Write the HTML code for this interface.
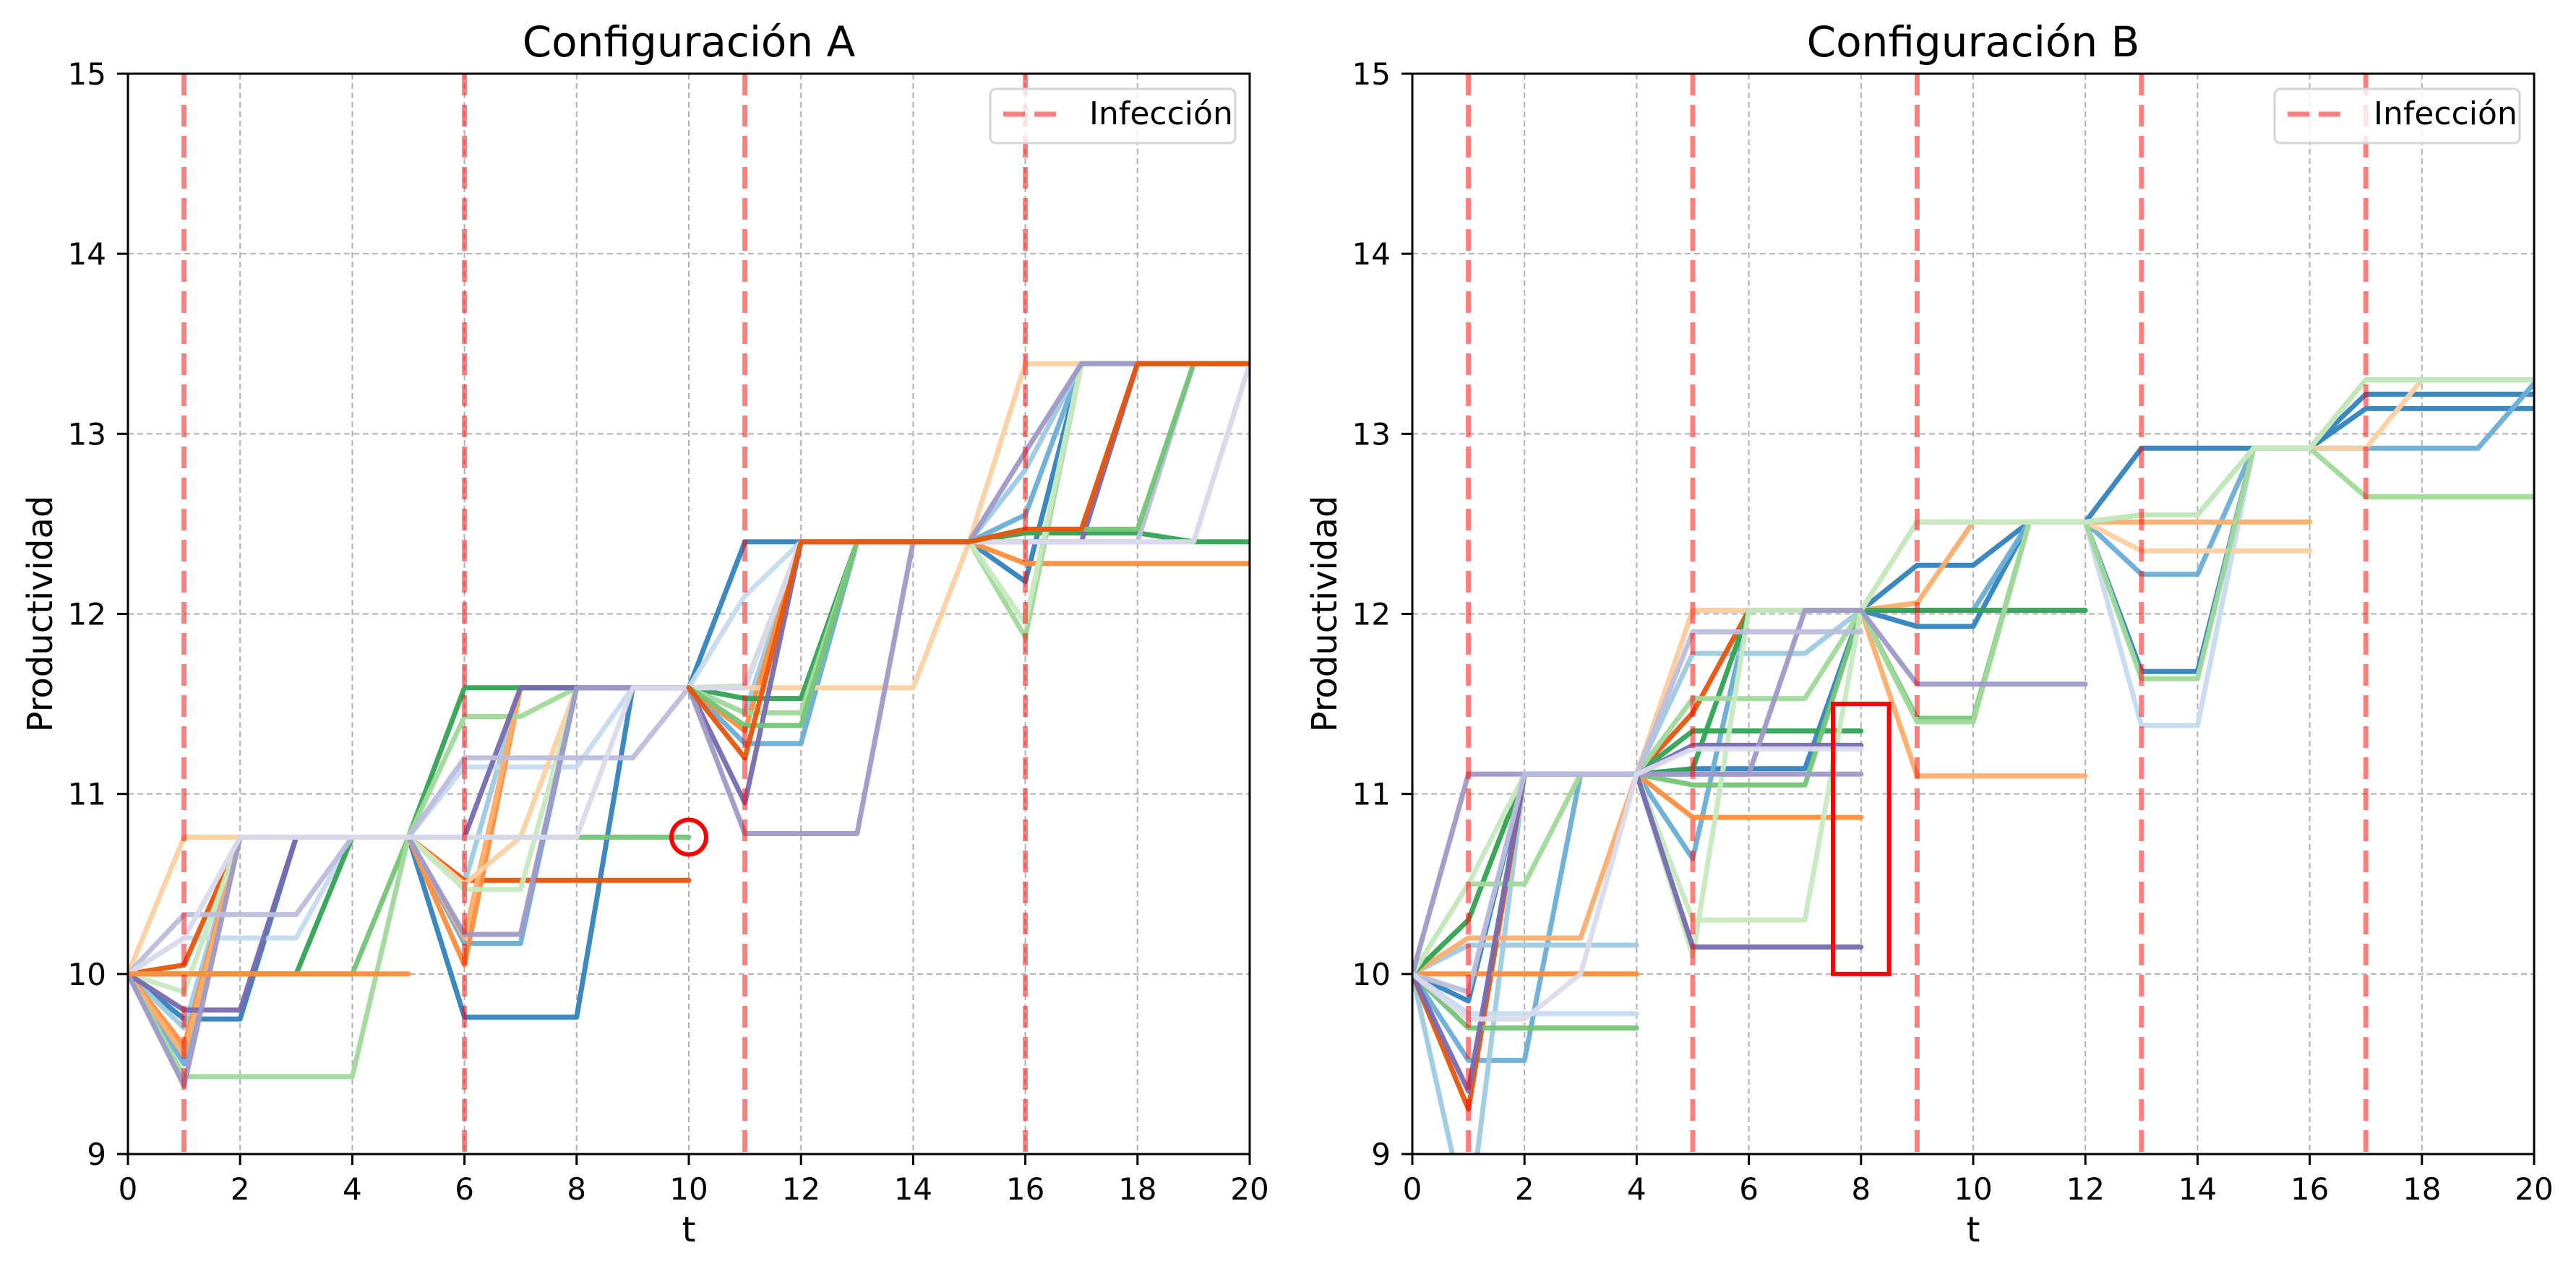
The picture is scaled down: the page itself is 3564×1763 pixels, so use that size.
<!DOCTYPE html>
<html><head><meta charset="utf-8">
<style>
html,body{margin:0;padding:0;background:#fff;}
svg{display:block;font-family:"DejaVu Sans","Liberation Sans",sans-serif;}
</style></head>
<body>
<svg id="fig" width="3564" height="1763" viewBox="0 0 3564 1763" xmlns="http://www.w3.org/2000/svg">
<rect width="3564" height="1763" fill="#fff"/>
</svg>
<script>
const palette=["#3182bd","#6baed6","#9ecae1","#c6dbef","#e6550d","#fd8d3c","#fdae6b","#fdd0a2","#31a354","#74c476","#a1d99b","#c7e9c0","#756bb1","#9e9ac8","#bcbddc","#dadaeb"];
const xTicks=[0,2,4,6,8,10,12,14,16,18,20];
const yTicks=[9,10,11,12,13,14,15];
const infectionA=[1,6,11,16];
const infectionB=[1,5,9,13,17];
const n=null;
// Configuración A series: [colorIndex, values at t=0..20]
const colorsA=[0,1,2,3,4,5,6,7,8,9,10,11,12,13,14,15,5,9,4];
const seriesA=[
[10,9.75,9.75,10.76,10.76,10.76,9.76,9.76,9.76,11.59,11.59,12.4,12.4,12.4,12.4,12.4,12.18,13.39,13.39,13.39,13.39],
[10,9.5,10.76,10.76,10.76,10.76,10.17,10.17,11.59,11.59,11.59,11.28,11.28,12.4,12.4,12.4,12.55,13.39,13.39,13.39,13.39],
[10,9.7,10.76,10.76,10.76,10.76,10.5,11.59,11.59,11.59,11.59,11.45,12.4,12.4,12.4,12.4,12.8,13.39,13.39,13.39,13.39],
[10,10.2,10.2,10.2,10.76,10.76,11.15,11.15,11.15,11.59,11.59,12.1,12.4,12.4,12.4,12.4,12.4,12.4,12.4,12.4,13.39],
[10,10.05,10.76,10.76,10.76,10.76,10.52,10.52,10.52,10.52,10.52,n,n,n,n,n,n,n,n,n,n],
[10,9.6,10.76,10.76,10.76,10.76,10.05,11.59,11.59,11.59,11.59,11.35,12.4,12.4,12.4,12.4,12.28,12.28,12.28,12.28,12.28],
[10,9.55,10.76,10.76,10.76,10.76,10.2,11.59,11.59,11.59,11.59,11.6,12.4,12.4,12.4,12.4,12.45,12.45,13.39,13.39,13.39],
[10,10.76,10.76,10.76,10.76,10.76,10.5,10.76,11.59,11.59,11.59,11.59,11.59,11.59,11.59,12.4,13.39,13.39,13.39,13.39,13.39],
[10,10,10,10,10.76,10.76,11.59,11.59,11.59,11.59,11.59,11.53,11.53,12.4,12.4,12.4,12.45,12.45,12.45,12.4,12.4],
[10,10,10,10,10,10.76,10.76,10.76,10.76,10.76,10.76,n,n,n,n,n,n,n,n,n,n],
[10,9.43,9.43,9.43,9.43,10.76,11.43,11.43,11.59,11.59,11.59,11.45,11.45,12.4,12.4,12.4,11.87,13.39,13.39,13.39,13.39],
[10,9.9,10.76,10.76,10.76,10.76,10.47,10.47,11.59,11.59,11.59,11.6,12.4,12.4,12.4,12.4,11.95,13.39,13.39,13.39,13.39],
[10,9.8,9.8,10.76,10.76,10.76,10.76,11.59,11.59,11.59,11.59,10.95,12.4,12.4,12.4,12.4,12.4,12.4,13.39,13.39,13.39],
[10,9.38,10.76,10.76,10.76,10.76,10.22,10.22,11.59,11.59,11.59,10.78,10.78,10.78,12.4,12.4,12.9,13.39,13.39,13.39,13.39],
[10,10.33,10.33,10.33,10.76,10.76,11.2,11.2,11.2,11.2,11.59,11.59,12.4,12.4,12.4,12.4,12.4,12.4,12.4,13.39,13.39],
[10,10.2,10.76,10.76,10.76,10.76,10.76,10.76,10.76,11.59,11.59,11.59,12.4,12.4,12.4,12.4,12.4,12.4,12.4,12.4,13.39],
[10,10,10,10,10,10,n,n,n,n,n,n,n,n,n,n,n,n,n,n,n],
[n,n,n,n,n,n,n,n,n,n,11.59,11.38,11.38,12.4,12.4,12.4,12.47,12.47,12.47,13.39,13.39],
[n,n,n,n,n,n,n,n,n,n,11.59,11.2,12.4,12.4,12.4,12.4,12.47,12.47,13.39,13.39,13.39]
];
// Configuración B series
const colorsB=[0,0,1,2,2,3,3,4,5,5,6,6,7,7,8,8,9,9,10,11,11,12,12,13,13,14,15];
const seriesB=[
[10,9.85,11.11,11.11,11.11,11.14,11.14,11.14,12.02,12.27,12.27,12.51,12.51,12.92,12.92,12.92,12.92,13.14,13.14,13.14,13.14],
[n,n,n,n,n,n,n,n,12.02,11.93,11.93,12.51,12.51,11.68,11.68,12.92,12.92,13.22,13.22,13.22,13.22],
[10,9.52,9.52,11.11,11.11,10.64,12.02,12.02,12.02,12.02,12.02,12.51,12.51,12.22,12.22,12.92,12.92,12.92,12.92,12.92,13.28],
[10,8.6,11.11,11.11,11.11,11.78,11.78,11.78,12.02,12.51,12.51,12.51,12.51,n,n,n,n,n,n,n,n],
[10,10.16,10.16,10.16,10.16,n,n,n,n,n,n,n,n,n,n,n,n,n,n,n,n],
[10,9.78,9.78,9.78,9.78,n,n,n,n,n,n,n,n,n,n,n,n,n,n,n,n],
[n,n,n,n,n,n,n,n,n,n,n,n,12.51,11.38,11.38,12.92,12.92,13.3,13.3,13.3,13.3],
[10,9.25,11.11,11.11,11.11,11.45,12.02,12.02,12.02,n,n,n,n,n,n,n,n,n,n,n,n],
[10,10,10,10,10,n,n,n,n,n,n,n,n,n,n,n,n,n,n,n,n],
[n,n,n,n,11.11,10.87,10.87,10.87,10.87,n,n,n,n,n,n,n,n,n,n,n,n],
[10,10.2,10.2,10.2,11.11,12.02,12.02,12.02,12.02,12.06,12.51,12.51,12.51,12.51,12.51,12.51,12.51,n,n,n,n],
[n,n,n,n,n,n,n,n,12.02,11.1,11.1,11.1,11.1,n,n,n,n,n,n,n,n],
[10,10.3,11.11,11.11,11.11,12.02,12.02,12.02,12.02,12.51,12.51,12.51,12.51,12.35,12.35,12.35,12.35,n,n,n,n],
[n,n,n,n,n,n,n,n,n,n,n,n,n,n,n,n,12.92,12.92,13.3,13.3,13.3],
[10,10.3,11.11,11.11,11.11,11.14,12.02,12.02,12.02,12.02,12.02,12.02,12.02,n,n,n,n,n,n,n,n],
[n,n,n,n,11.11,11.35,11.35,11.35,11.35,n,n,n,n,n,n,n,n,n,n,n,n],
[10,9.7,9.7,9.7,9.7,n,n,n,n,n,n,n,n,n,n,n,n,n,n,n,n],
[n,n,n,n,11.11,11.05,11.05,11.05,12.02,11.42,11.42,12.51,12.51,12.55,12.55,12.92,12.92,13.3,13.3,13.3,13.3],
[10,10.5,10.5,11.11,11.11,11.53,11.53,11.53,12.02,11.4,11.4,12.51,12.51,11.64,11.64,12.92,12.92,12.65,12.65,12.65,12.65],
[10,10.5,11.11,11.11,11.11,10.1,12.02,12.02,12.02,12.51,12.51,12.51,12.51,12.55,12.55,12.92,12.92,13.3,13.3,13.3,13.3],
[n,n,n,n,11.11,10.3,10.3,10.3,12.02,12.51,12.51,12.51,12.51,n,n,n,n,n,n,n,n],
[10,9.35,11.11,11.11,11.11,11.27,11.27,11.27,11.27,n,n,n,n,n,n,n,n,n,n,n,n],
[n,n,n,n,11.11,10.15,10.15,10.15,10.15,n,n,n,n,n,n,n,n,n,n,n,n],
[10,11.11,11.11,11.11,11.11,11.11,11.11,12.02,12.02,11.61,11.61,11.61,11.61,n,n,n,n,n,n,n,n],
[n,n,n,n,11.11,11.11,11.11,11.11,11.11,n,n,n,n,n,n,n,n,n,n,n,n],
[10,9.9,11.11,11.11,11.11,11.9,11.9,11.9,11.9,n,n,n,n,n,n,n,n,n,n,n,n],
[10,9.75,9.75,10,11.11,11.25,11.25,11.25,11.25,n,n,n,n,n,n,n,n,n,n,n,n]
];
const NS="http://www.w3.org/2000/svg";
const fig=document.getElementById('fig');
function mk(tag,attrs,parent){const e=document.createElementNS(NS,tag);for(const k in attrs)e.setAttribute(k,attrs[k]);(parent||fig).appendChild(e);return e;}
function panel(key,x0,x1,title,series,colors,infections){
  const y0=102,y1=1597;
  const X=t=>x0+(t-0)/(20-0)*(x1-x0);
  const Y=v=>y1-(v-9)/(15-9)*(y1-y0);
  const g=mk('g',{});
  
  
  const clipId='clip-'+key;
  const cp=mk('clipPath',{id:clipId},g);mk('rect',{x:x0,y:y0,width:x1-x0,height:y1-y0},cp);
  xTicks.forEach(t=>{const l=mk('line',{x1:X(t),x2:X(t),y1:y0,y2:y1,stroke:'#b0b0b0','stroke-width':2,'stroke-dasharray':'8,5'},g);
    });
  yTicks.forEach(v=>{const l=mk('line',{x1:x0,x2:x1,y1:Y(v),y2:Y(v),stroke:'#b0b0b0','stroke-width':2,'stroke-dasharray':'8,5'},g);
    });
  const sg=mk('g',{'clip-path':'url(#'+clipId+')'},g);
  series.forEach((vals,i)=>{
    let d='';let pen=false;
    vals.forEach((v,t)=>{if(v===null){pen=false;return;}d+=(pen?'L':'M')+X(t).toFixed(1)+','+Y(v).toFixed(1);pen=true;});
    const p=mk('path',{d:d,fill:'none',stroke:palette[colors[i]],'stroke-width':7,'stroke-linejoin':'round','stroke-linecap':'round','stroke-opacity':0.95},sg);
    
    
  });
  infections.forEach(t=>{const l=mk('line',{x1:X(t),x2:X(t),y1:y0,y2:y1,stroke:'#ff0000','stroke-opacity':0.5,'stroke-width':7,'stroke-dasharray':'30,13'},g);
    });
  const sp=mk('rect',{x:x0,y:y0,width:x1-x0,height:y1-y0,fill:'none',stroke:'#000','stroke-width':3},g);
  
  xTicks.forEach(t=>{mk('line',{x1:X(t),x2:X(t),y1:y1,y2:y1+15,stroke:'#000','stroke-width':3},g);
    const tx=mk('text',{x:X(t),y:1660,'font-size':42,'text-anchor':'middle',fill:'#000'},g);tx.textContent=t;
    });
  yTicks.forEach(v=>{mk('line',{x1:x0-15,x2:x0,y1:Y(v),y2:Y(v),stroke:'#000','stroke-width':3},g);
    const tx=mk('text',{x:x0-30,y:Y(v)+15,'font-size':42,'text-anchor':'end',fill:'#000'},g);tx.textContent=v;
    });
  const ti=mk('text',{x:(x0+x1)/2,y:78,'font-size':58,'text-anchor':'middle',fill:'#000'},g);ti.textContent=title;
  
  const xl=mk('text',{x:(x0+x1)/2,y:1718,'font-size':48,'text-anchor':'middle',fill:'#000'},g);xl.textContent='t';
  
  const yl=mk('text',{x:0,y:0,'font-size':48,'text-anchor':'middle',fill:'#000',transform:'translate('+(x0-105)+','+((y0+y1)/2)+') rotate(-90)'},g);yl.textContent='Productividad';
  
  const lg=mk('g',{},g);
  
  const lw=339;const lx=x1-20-lw;
  mk('rect',{x:lx,y:123,width:lw,height:75,rx:8,fill:'#fff','fill-opacity':0.8,stroke:'#d5d5d5','stroke-width':3},lg);
  mk('line',{x1:lx+18,x2:lx+93,y1:158,y2:158,stroke:'#ff0000','stroke-opacity':0.5,'stroke-width':7,'stroke-dasharray':'30,13'},lg);
  const lt=mk('text',{x:lx+137,y:172,'font-size':44,fill:'#000'},lg);lt.textContent='Infección';
  
  return {X,Y,g};
}
const A=panel('config-a',177,1729,'Configuración A',seriesA,colorsA,infectionA);
const B=panel('config-b',1954,3506,'Configuración B',seriesB,colorsB,infectionB);
const circ=mk('circle',{cx:A.X(10),cy:A.Y(10.76),r:24,fill:'none',stroke:'#ff0000','stroke-width':6});


const box=mk('rect',{x:B.X(7.5),y:B.Y(11.5),width:B.X(8.5)-B.X(7.5),height:B.Y(10)-B.Y(11.5),fill:'none',stroke:'#ff0000','stroke-width':6});


</script>
</body></html>
